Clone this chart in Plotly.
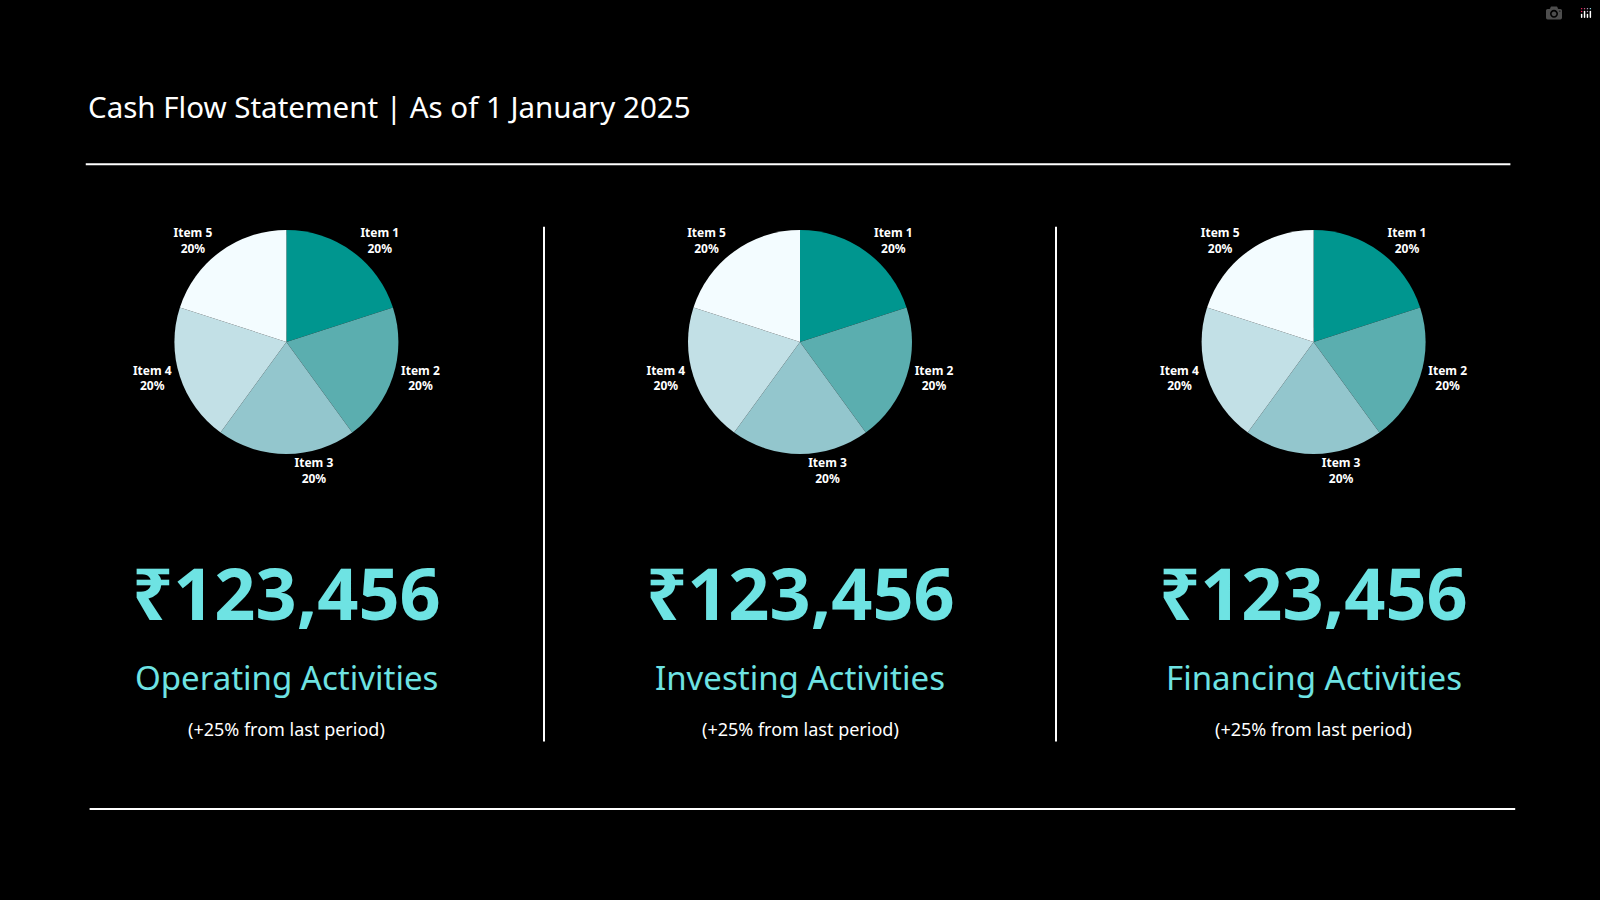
import plotly.graph_objects as go

items = ["Item 1", "Item 2", "Item 3", "Item 4", "Item 5"]
values_operating = [20, 20, 20, 20, 20]
values_investing = [20, 20, 20, 20, 20]
values_financing = [20, 20, 20, 20, 20]
colors = ["#00968F", "#5BAEAF", "#93C6CD", "#C2E0E6", "#F3FCFF"]
amounts = ["₹123,456", "₹123,456", "₹123,456"]
sections = ["Operating Activities", "Investing Activities", "Financing Activities"]
changes = ["(+25% from last period)"] * 3
centers = [0.179, 0.5, 0.821]

W, H = 1600, 900
fig = go.Figure()
r = 112
cy = 342
for cx, vals in zip(centers, [values_operating, values_investing, values_financing]):
    px = cx * W
    fig.add_trace(go.Pie(
        labels=items, values=vals, sort=False, direction="clockwise", rotation=0,
        marker=dict(colors=colors, line=dict(width=0)),
        textinfo="label+percent", textposition="outside",
        texttemplate="<b>%{label}</b><br><b>%{percent:.0%}</b>",
        textfont=dict(color="white", size=12, family="Noto Sans"),
        showlegend=False, hoverinfo="skip",
        domain=dict(x=[(px - r) / W, (px + r) / W], y=[1 - (cy + r) / H, 1 - (cy - r) / H]),
    ))

shapes = [
    dict(type="line", xref="paper", yref="paper", x0=0.0536, x1=0.944, y0=1 - 0.1825, y1=1 - 0.1825,
         line=dict(color="white", width=2)),
    dict(type="line", xref="paper", yref="paper", x0=0.056, x1=0.947, y0=1 - 0.899, y1=1 - 0.899,
         line=dict(color="white", width=2)),
]
for x in [0.340, 0.660]:
    shapes.append(dict(type="line", xref="paper", yref="paper", x0=x, x1=x, y0=1 - 0.252, y1=1 - 0.824,
                       line=dict(color="white", width=2)))

ann = [dict(text="Cash Flow Statement | As of 1 January 2025", x=0.054, y=1 - 0.118, xref="paper", yref="paper",
            xanchor="left", yanchor="middle", showarrow=False,
            font=dict(color="white", size=29.5, family="Noto Sans"))]
for cx, a, s, c in zip(centers, amounts, sections, changes):
    ann.append(dict(text=f"<b>{a}</b>", x=cx, y=1 - 0.658, xref="paper", yref="paper", showarrow=False,
                    xanchor="center", yanchor="middle", font=dict(color="#6EE3E3", size=72, family="Noto Sans")))
    ann.append(dict(text=s, x=cx, y=1 - 0.753, xref="paper", yref="paper", showarrow=False,
                    xanchor="center", yanchor="middle", font=dict(color="#6EE3E3", size=33, family="Noto Sans")))
    ann.append(dict(text=c, x=cx, y=1 - 0.810, xref="paper", yref="paper", showarrow=False,
                    xanchor="center", yanchor="middle", font=dict(color="white", size=18, family="Noto Sans")))

fig.update_layout(width=W, height=H, paper_bgcolor="black", plot_bgcolor="black",
                  margin=dict(l=0, r=0, t=0, b=0), shapes=shapes, annotations=ann)
fig.write_html("out.html")

with open("out.html", encoding="utf-8") as f:
    html = f.read()
html = html.replace("<head>", "<head><style>html,body{margin:0;padding:0;background:#000;overflow:hidden;}</style>", 1)
with open("out.html", "w", encoding="utf-8") as f:
    f.write(html)
